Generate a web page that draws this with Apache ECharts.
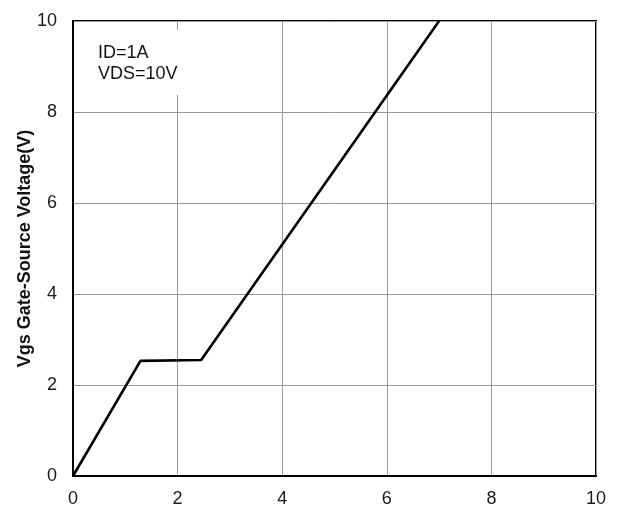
<!DOCTYPE html>
<html>
<head>
<meta charset="utf-8">
<script src="https://cdn.jsdelivr.net/npm/echarts@6/dist/echarts.min.js"></script>
<style>
  html, body { margin: 0; padding: 0; background: #fff; }
  #chart { width: 624px; height: 509px; }
</style>
</head>
<body>
<div id="chart"></div>
<script>
// Gate charge curve: Qg (nC) vs gate-source voltage (V)
const chargeNc = [0, 1.29, 2.45, 7.0];
const gateVoltage = [0, 2.53, 2.55, 10];
const xTicks = [0, 2, 4, 6, 8, 10];
const yTicks = [0, 2, 4, 6, 8, 10];
const conditions = ['ID=1A', 'VDS=10V'];
const yTitle = 'Vgs Gate-Source Voltage(V)';

const points = chargeNc.map((q, i) => [q, gateVoltage[i]]);

const chart = echarts.init(document.getElementById('chart'), null, { renderer: 'canvas' });

const tickFont = {
  fontFamily: '"Liberation Sans Narrow", "Liberation Sans", Arial, sans-serif',
  fontSize: 18,
  color: '#1a1a1a'
};

chart.setOption({
  animation: false,
  backgroundColor: '#fff',
  grid: {
    left: 73, right: 28, top: 21, bottom: 33,
    show: true, borderColor: '#000', borderWidth: 2, backgroundColor: 'transparent'
  },
  xAxis: {
    type: 'value', min: xTicks[0], max: xTicks[xTicks.length - 1], interval: 2,
    axisLine: { show: true, lineStyle: { color: '#000', width: 2 } },
    axisTick: { show: false },
    axisLabel: Object.assign({ margin: 14 }, tickFont),
    splitLine: { show: true, lineStyle: { color: '#9a9a9a', width: 1 } }
  },
  yAxis: {
    type: 'value', min: yTicks[0], max: yTicks[yTicks.length - 1], interval: 2,
    name: yTitle,
    nameLocation: 'middle',
    nameGap: 39,
    nameRotate: 90,
    nameMoveOverlap: false,
    nameTextStyle: {
      fontFamily: '"Liberation Sans", Arial, sans-serif',
      fontSize: 18, fontWeight: 'bold', color: '#111'
    },
    axisLine: { show: true, lineStyle: { color: '#000', width: 2 } },
    axisTick: { show: false },
    axisLabel: Object.assign({ margin: 16 }, tickFont),
    splitLine: { show: true, lineStyle: { color: '#9a9a9a', width: 1 } }
  },
  graphic: [
    {
      type: 'rect', z: 1, silent: true,
      shape: { x: 76, y: 30, width: 120, height: 65 },
      style: { fill: '#fff' }
    },
    {
      type: 'text', z: 3, left: 98, top: 42,
      style: {
        text: conditions.join('\n'),
        font: '18px "Liberation Sans", Arial, sans-serif',
        fill: '#111',
        lineHeight: 21.5
      }
    }
  ],
  series: [{
    type: 'line',
    z: 4,
    data: points,
    showSymbol: false,
    clip: false,
    lineStyle: { color: '#000', width: 2.6 }
  }]
});
</script>
</body>
</html>
